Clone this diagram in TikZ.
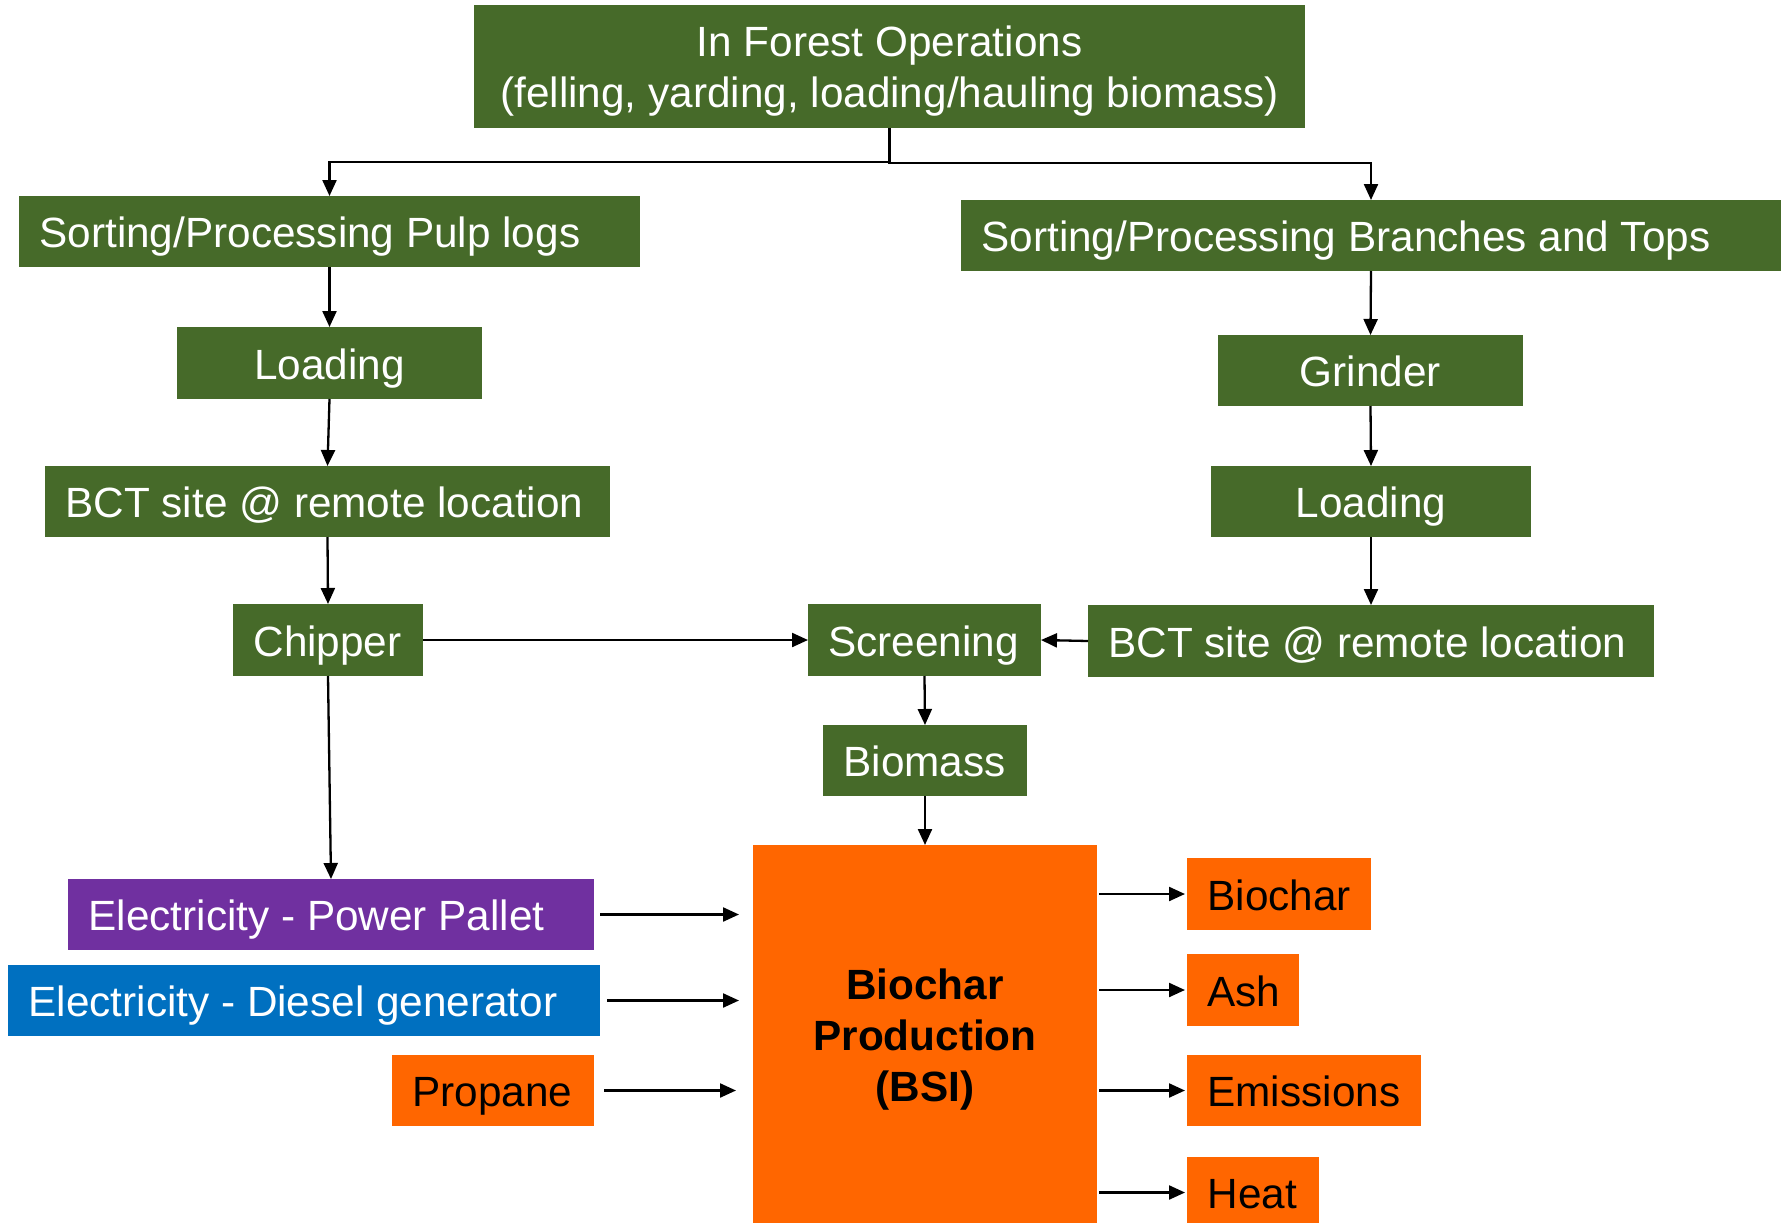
\documentclass[tikz,border=0pt]{standalone}
\usepackage{fontspec}
\setmainfont{Liberation Sans}
\usetikzlibrary{arrows.meta}
\definecolor{forest}{HTML}{466A29}
\definecolor{flame}{HTML}{FF6600}
\definecolor{grape}{HTML}{7030A0}
\definecolor{ocean}{HTML}{0070C0}
% left-aligned label inside a box of the given width
\newcommand\lefttext[2]{\makebox[#1pt][l]{\hspace*{20.5pt}#2}}
% centred multi-line label whose cap height / last baseline set the box
\newcommand\stackedtext[3]{\raisebox{0pt}[#1][#2]{\begin{tabular}[t]{@{}c@{}}#3\end{tabular}}}

\begin{document}
\begin{tikzpicture}[x=1pt,y=-1pt,
  blk/.style={rectangle, inner sep=0pt, outer sep=0pt, font=\fontsize{42.3}{51}\selectfont},
  oneline/.style={text height=32.8pt, text depth=0pt},
  green box/.style={blk, oneline, fill=forest, text=white},
  orange box/.style={blk, oneline, fill=flame, text=black},
  arr/.style={line width=2.3pt, -{Triangle[length=16pt,width=14pt]}},
]
\clip (0,0) rectangle (1783,1223);
\fill[white] (0,0) rectangle (1783,1223);

% forest operations and the two processing chains
\node[blk, fill=forest, text=white, minimum width=831, minimum height=123] (top) at (889.5,66.5)
  {\stackedtext{30.3pt}{51pt}{In Forest Operations\\(felling, yarding, loading/hauling biomass)}};
\node[green box, minimum width=621, minimum height=71] (pulp) at (329.5,231.5) {\lefttext{621}{Sorting/Processing Pulp logs}};
\node[green box, minimum width=820, minimum height=71] (branches) at (1371,235.5) {\lefttext{820}{Sorting/Processing Branches and Tops}};
\node[green box, minimum width=305, minimum height=72] (loadL) at (329.5,363) {Loading};
\node[green box, minimum width=305, minimum height=71] (grinder) at (1370.5,370.5) {Grinder};
\node[green box, minimum width=565, minimum height=71] (bctL) at (327.5,501.5) {\lefttext{565}{BCT site @ remote location}};
\node[green box, minimum width=320, minimum height=71] (loadR) at (1371,501.5) {Loading};
\node[green box, minimum width=190, minimum height=72] (chipper) at (328,640) {\lefttext{190}{Chipper}};
\node[green box, minimum width=233, minimum height=72] (screen) at (924.5,640) {\lefttext{233}{Screening}};
\node[green box, minimum width=566, minimum height=72] (bctR) at (1371,641) {\lefttext{566}{BCT site @ remote location}};
\node[green box, minimum width=204, minimum height=71] (biomass) at (925,760.5) {\lefttext{204}{Biomass}};

% biochar unit with its inputs and outputs
\node[blk, fill=flame, text=black, font=\fontsize{42.3}{51}\selectfont\bfseries, minimum width=344, minimum height=378] (bsi) at (925,1034)
  {\stackedtext{33.3pt}{102pt}{Biochar\\Production\\(BSI)}};
\node[blk, oneline, fill=grape, text=white, minimum width=526, minimum height=71] (pp) at (331,914.5) {\lefttext{526}{Electricity - Power Pallet}};
\node[blk, oneline, fill=ocean, text=white, minimum width=592, minimum height=71] (diesel) at (304,1000.5) {\lefttext{592}{Electricity - Diesel generator}};
\node[orange box, minimum width=202, minimum height=71] (propane) at (493,1090.5) {\lefttext{202}{Propane}};
\node[orange box, minimum width=184, minimum height=72] (biochar) at (1279,894) {\lefttext{184}{Biochar}};
\node[orange box, minimum width=112, minimum height=72] (ash) at (1243,990) {\lefttext{112}{Ash}};
\node[orange box, minimum width=234, minimum height=71] (emis) at (1304,1090.5) {\lefttext{234}{Emissions}};
\node[orange box, minimum width=132, minimum height=71] (heat) at (1253,1192.5) {\lefttext{132}{Heat}};

% connectors
\draw[arr] (top.south) -- ++(0,34) -| (pulp.north);
\draw[arr] (top.south) -- ++(0,35) -| (branches.north);
\draw[arr] (pulp.south) -- (loadL.north);
\draw[arr] (loadL.south) -- (bctL.north);
\draw[arr] (bctL.south) -- (chipper.north);
\draw[arr] (chipper.east) -- (screen.west);
\draw[arr] (chipper.south) -- (pp.north);
\draw[arr] (branches.south) -- (grinder.north);
\draw[arr] (grinder.south) -- (loadR.north);
\draw[arr] (loadR.south) -- (bctR.north);
\draw[arr] (bctR.west) -- (screen.east);
\draw[arr] (screen.south) -- (biomass.north);
\draw[arr] (biomass.south) -- (bsi.north);
\draw[arr, shorten <=6pt, shorten >=14pt] (pp.east) -- (pp.east -| bsi.west);
\draw[arr, shorten <=7pt, shorten >=14pt] (diesel.east) -- (diesel.east -| bsi.west);
\draw[arr, shorten <=10pt, shorten >=17pt] (propane.east) -- (propane.east -| bsi.west);
\draw[arr, shorten <=2pt, shorten >=2pt] (bsi.east |- biochar.west) -- (biochar.west);
\draw[arr, shorten <=2pt, shorten >=2pt] (bsi.east |- ash.west) -- (ash.west);
\draw[arr, shorten <=2pt, shorten >=2pt] (bsi.east |- emis.west) -- (emis.west);
\draw[arr, shorten <=2pt, shorten >=2pt] (bsi.east |- heat.west) -- (heat.west);
\end{tikzpicture}
\end{document}
